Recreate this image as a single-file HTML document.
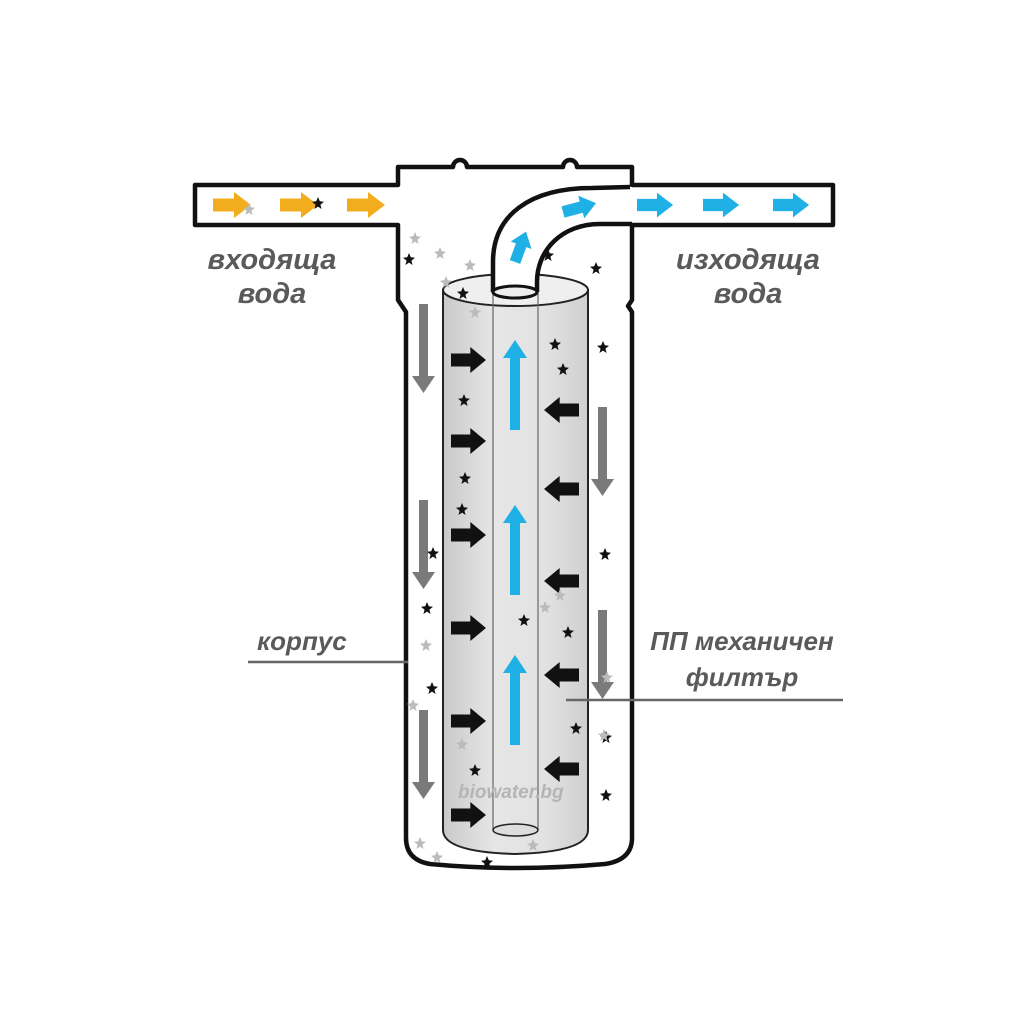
<!DOCTYPE html>
<html><head><meta charset="utf-8"><style>
html,body{margin:0;padding:0;background:#fff;}
svg{display:block;}
text{font-family:"Liberation Sans",sans-serif;font-weight:bold;font-style:italic;fill:#5a5a5a;}
</style></head><body>
<svg width="1024" height="1024" viewBox="0 0 1024 1024" xmlns="http://www.w3.org/2000/svg">
<defs>
<linearGradient id="cg" x1="0" x2="1" y1="0" y2="0">
<stop offset="0" stop-color="#c9c9c9"/><stop offset="0.35" stop-color="#e6e6e6"/><stop offset="0.7" stop-color="#e2e2e2"/><stop offset="1" stop-color="#cfcfcf"/>
</linearGradient>
<g id="ar"><path d="M0,-6.5 L21,-6.5 L21,-13 L38,0 L21,13 L21,6.5 L0,6.5 Z"/></g>
<g id="st"><path d="M0,-6 L1.8,-1.8 L6,-1.2 L2.4,1.8 L3.6,6 L0,3.6 L-3.6,6 L-2.4,1.8 L-6,-1.2 L-1.8,-1.8 Z"/></g>
</defs>
<path d="M195,185 L398,185 L398,167 L453,167 A7,7 0 0 1 467,167 L563,167 A7,7 0 0 1 577,167 L632,167 L632,185 L833,185 L833,225 L632,225 L632,300 L628,306 L632,312 L632,838 Q632,860 605,864 Q515,872 430,864 Q406,860 406,838 L406,312 L402,306 L398,300 L398,225 L195,225 Z" fill="#fff" stroke="#111" stroke-width="4.5" stroke-linejoin="round"/>
<path d="M443,290 L443,830 Q443,852 515,854 Q588,852 588,830 L588,290 Z" fill="url(#cg)" stroke="#222" stroke-width="2"/>
<ellipse cx="515.5" cy="290" rx="72.5" ry="16" fill="#efefef" stroke="#222" stroke-width="2"/>
<line x1="493" y1="292" x2="493" y2="830" stroke="#666" stroke-width="1.2"/>
<line x1="538" y1="292" x2="538" y2="830" stroke="#666" stroke-width="1.2"/>
<ellipse cx="515.5" cy="830" rx="22.5" ry="6" fill="#ddd" stroke="#222" stroke-width="1.5"/>
<path d="M493,292 L493,262 C493,215 530,188 592,188 L632,187 L632,224 L600,224 C562,224 537,250 537,282 L537,292 Z" fill="#fff"/>
<path d="M493,292 L493,262 C493,215 530,188 592,188 L630,187" fill="none" stroke="#111" stroke-width="4.5"/>
<path d="M537,292 L537,282 C537,250 562,224 600,224 L632,224" fill="none" stroke="#111" stroke-width="4.5"/>
<ellipse cx="515" cy="292" rx="22" ry="6" fill="#eee" stroke="#111" stroke-width="3"/>
<g fill="#f2ad1f">
<use href="#ar" transform="translate(213,205)"/>
<use href="#ar" transform="translate(280,205)"/>
<use href="#ar" transform="translate(347,205)"/>
</g>
<g fill="#1fb0e6">
<use href="#ar" transform="translate(563,212) rotate(-15) scale(0.9)"/>
<use href="#ar" transform="translate(637,205) scale(0.95)"/>
<use href="#ar" transform="translate(703,205) scale(0.95)"/>
<use href="#ar" transform="translate(773,205) scale(0.95)"/>
<use href="#ar" transform="translate(515,262) rotate(-70) scale(0.85)"/>
<path d="M510,430 L510,358 L503,358 L515,340 L527,358 L520,358 L520,430 Z"/>
<path d="M510,595 L510,523 L503,523 L515,505 L527,523 L520,523 L520,595 Z"/>
<path d="M510,745 L510,673 L503,673 L515,655 L527,673 L520,673 L520,745 Z"/>
</g>
<g fill="#111">
<use href="#ar" transform="translate(451,360) scale(0.92,1)"/>
<use href="#ar" transform="translate(451,441) scale(0.92,1)"/>
<use href="#ar" transform="translate(451,535) scale(0.92,1)"/>
<use href="#ar" transform="translate(451,628) scale(0.92,1)"/>
<use href="#ar" transform="translate(451,721) scale(0.92,1)"/>
<use href="#ar" transform="translate(451,815) scale(0.92,1)"/>
<use href="#ar" transform="translate(579,410) scale(-0.92,1)"/>
<use href="#ar" transform="translate(579,489) scale(-0.92,1)"/>
<use href="#ar" transform="translate(579,581) scale(-0.92,1)"/>
<use href="#ar" transform="translate(579,675) scale(-0.92,1)"/>
<use href="#ar" transform="translate(579,769) scale(-0.92,1)"/>
</g>
<g fill="#7a7a7a">
<path d="M419,304 L428,304 L428,376 L435,376 L423.5,393 L412,376 L419,376 Z"/>
<path d="M419,500 L428,500 L428,572 L435,572 L423.5,589 L412,572 L419,572 Z"/>
<path d="M419,710 L428,710 L428,782 L435,782 L423.5,799 L412,782 L419,782 Z"/>
<path d="M598,407 L607,407 L607,479 L614,479 L602.5,496 L591,479 L598,479 Z"/>
<path d="M598,610 L607,610 L607,682 L614,682 L602.5,699 L591,682 L598,682 Z"/>
</g>
<g fill="#111">
<use href="#st" x="318" y="203"/><use href="#st" x="409" y="259"/><use href="#st" x="548" y="255"/><use href="#st" x="596" y="268"/>
<use href="#st" x="463" y="293"/><use href="#st" x="555" y="344"/><use href="#st" x="603" y="347"/><use href="#st" x="563" y="369"/>
<use href="#st" x="464" y="400"/><use href="#st" x="465" y="478"/><use href="#st" x="605" y="554"/><use href="#st" x="433" y="553"/>
<use href="#st" x="427" y="608"/><use href="#st" x="568" y="632"/><use href="#st" x="432" y="688"/><use href="#st" x="524" y="620"/>
<use href="#st" x="576" y="728"/><use href="#st" x="606" y="737"/><use href="#st" x="475" y="770"/><use href="#st" x="606" y="795"/>
<use href="#st" x="487" y="862"/><use href="#st" x="462" y="509"/>
</g>
<g fill="#bbb">
<use href="#st" x="249" y="209"/><use href="#st" x="415" y="238"/><use href="#st" x="440" y="253"/><use href="#st" x="470" y="265"/>
<use href="#st" x="446" y="282"/><use href="#st" x="475" y="312"/><use href="#st" x="560" y="595"/><use href="#st" x="545" y="607"/>
<use href="#st" x="426" y="645"/><use href="#st" x="462" y="744"/><use href="#st" x="607" y="677"/><use href="#st" x="420" y="843"/>
<use href="#st" x="437" y="857"/><use href="#st" x="533" y="845"/><use href="#st" x="604" y="735"/><use href="#st" x="413" y="705"/>
</g>
<text x="458" y="798" font-size="19" style="fill:#b5b5b5">biowater.bg</text>
<text x="272" y="269" font-size="29" text-anchor="middle">входяща</text>
<text x="272" y="303" font-size="29" text-anchor="middle">вода</text>
<text x="748" y="269" font-size="29" text-anchor="middle">изходяща</text>
<text x="748" y="303" font-size="29" text-anchor="middle">вода</text>
<text x="257" y="650" font-size="26">корпус</text>
<line x1="248" y1="662" x2="408" y2="662" stroke="#666" stroke-width="2.5"/>
<text x="742" y="650" font-size="26" text-anchor="middle">ПП механичен</text>
<text x="742" y="686" font-size="26" text-anchor="middle">филтър</text>
<line x1="566" y1="700" x2="843" y2="700" stroke="#666" stroke-width="2.5"/>
</svg>
</body></html>
